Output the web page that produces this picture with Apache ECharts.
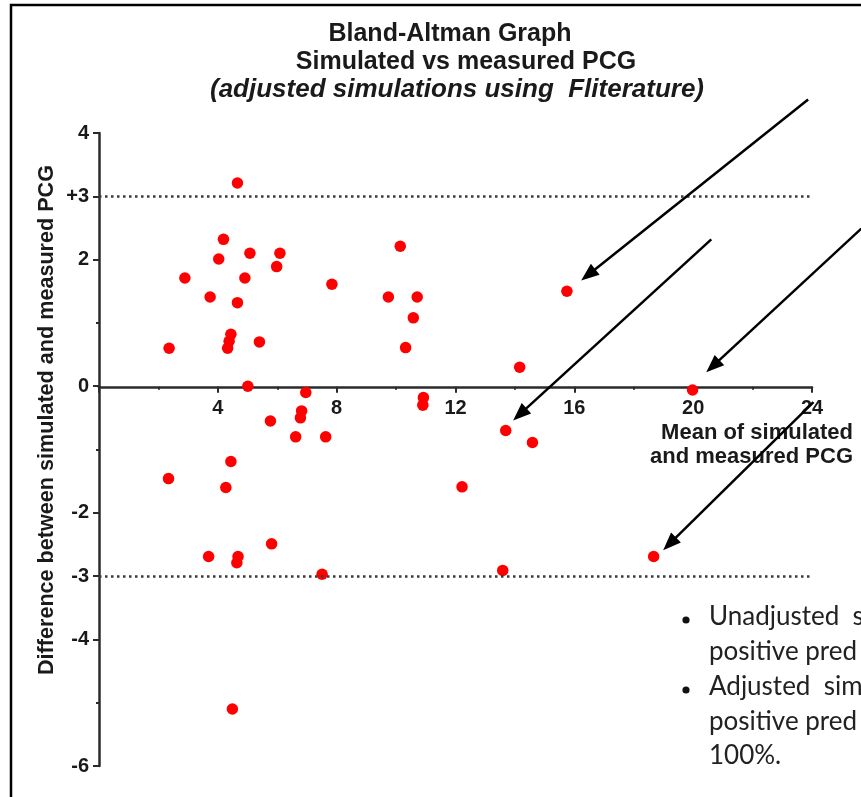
<!DOCTYPE html>
<html><head><meta charset="utf-8">
<script src="https://cdn.jsdelivr.net/npm/echarts@6/dist/echarts.min.js"></script>
<style>html,body{margin:0;padding:0;background:#fff}#c{width:861px;height:797px}</style>
</head><body><div id="c"></div>
<script>
// ---- data ----
const meanValues = [4.66,4.19,4.03,5.08,6.09,5.98,2.89,4.91,3.74,4.66,7.84,4.44,4.38,4.33,5.40,2.36,5.01,6.96,6.82,6.78,5.77,6.62,7.63,4.44,2.34,4.27,5.81,3.69,4.68,4.64,7.51,10.14,9.74,10.71,10.58,10.32,14.16,10.92,10.90,13.69,14.59,12.22,15.75,19.98,18.67,13.59,4.49];
const diffValues = [3.21,2.32,2.01,2.10,2.10,1.89,1.71,1.71,1.41,1.32,1.61,0.82,0.71,0.60,0.70,0.60,0.00,-0.10,-0.39,-0.50,-0.55,-0.80,-0.80,-1.19,-1.46,-1.60,-2.49,-2.69,-2.69,-2.79,-2.97,2.21,1.41,1.41,1.08,0.61,0.30,-0.18,-0.30,-0.70,-0.89,-1.59,1.50,-0.06,-2.69,-2.91,-5.10];
const yTickLabels = {'4':'4','3':'+3','2':'2','0':'0','-2':'-2','-3':'-3','-4':'-4','-6':'-6'};
const yMajorTicks = [4,3,2,0,-2,-3,-4,-6];
const yMin = -6, yMax = 4;
const limitLines = [3,-3];
const titleLines = ['Bland-Altman Graph','Simulated vs measured PCG','(adjusted simulations using  Fliterature)'];
const yAxisTitle = 'Difference between simulated and measured PCG';
const xAxisTitle = ['Mean of simulated','and measured PCG'];
// arrows: [from(mean,diff), to(mean,diff)]
const arrowsFrom = [[23.87,4.53],[20.61,2.32],[25.66,2.49],[24.05,-0.25]];
const arrowsTo   = [[16.23,1.67],[13.94,-0.54],[20.44,0.22],[18.99,-2.59]];
const noteLines = ['Unadjusted  s','positive pred','Adjusted  sim','positive pred','100%.'];
const noteBullets = [0,2];

const chart = echarts.init(document.getElementById('c'));
const axisColor = '#2b2b2b';
const lblFont = {fontFamily:'Liberation Sans', fontWeight:'bold', fontSize:20, color:'#1a1a1a'};
chart.setOption({
  animation:false,
  backgroundColor:'#fff',
  grid:{left:99, top:133, width:713, height:633},
  xAxis:{type:'value', min:0, max:24, interval:4, position:'bottom', offset:0,
    axisLine:{onZero:false, lineStyle:{color:axisColor, width:2.5}},
    axisTick:{length:6, lineStyle:{color:axisColor, width:2}},
    minorTick:{show:true, splitNumber:2, length:3, lineStyle:{color:axisColor, width:2}},
    splitLine:{show:false}, minorSplitLine:{show:false},
    axisLabel:Object.assign({margin:12, formatter:v=>v===0?'':String(v)}, lblFont)},
  yAxis:[{type:'value', min:yMin, max:yMax, interval:1, position:'left',
    axisLine:{show:true, onZero:false, lineStyle:{color:axisColor, width:2.5}},
    axisTick:{show:true, length:3, lineStyle:{color:axisColor, width:2}},
    splitLine:{show:false},
    axisLabel:Object.assign({margin:10, formatter:v=>(yTickLabels[String(v)]||'')}, lblFont)},
   {type:'value', min:yMin, max:yMax, interval:1, position:'left',
    axisLine:{show:false, onZero:false}, splitLine:{show:false}, axisLabel:{show:false},
    axisTick:{show:true, length:6, customValues:yMajorTicks, lineStyle:{color:axisColor, width:2}}}],
  series:[{type:'scatter', yAxisIndex:0, symbol:'circle', symbolSize:11.5,
    itemStyle:{color:'#ff0000', opacity:1},
    data:meanValues.map((m,i)=>[m,diffValues[i]]),
    markLine:{silent:true, symbol:['none','none'], label:{show:false},
      lineStyle:{type:[2.5,3.5], color:'#3a3a3a', width:2.5},
      data:limitLines.map(v=>({yAxis:v}))}, z:3}]
});
// move the x axis (line, ticks, labels) up to y = 0
const zeroPx = chart.convertToPixel({yAxisIndex:0}, 0);
const bottomPx = chart.convertToPixel({yAxisIndex:0}, yMin);
chart.setOption({xAxis:{offset: zeroPx - bottomPx}});

const g = [];
g.push({type:'rect', shape:{x:11,y:5,width:900,height:900}, style:{fill:'none', stroke:'#000', lineWidth:2.5}, silent:true});
const tY = [34,62,90];
const tX = [450,466,457];
const tSize = [25,25,26];
titleLines.forEach((t,i)=>{
  g.push({type:'text', x:tX[i], y:tY[i], style:{text:t, fontFamily:'Liberation Sans', fontWeight:'bold',
    fontStyle: i===2?'italic':'normal', fontSize:tSize[i], fill:'#1a1a1a',
    align:'center', verticalAlign:'middle', textAlign:'center', textVerticalAlign:'middle'}});
});
g.push({type:'text', x:47, y:420, rotation:Math.PI/2, style:{text:yAxisTitle, fontFamily:'Liberation Sans', fontWeight:'bold',
  fontSize:21.6, fill:'#1a1a1a', align:'center', verticalAlign:'middle', textAlign:'center', textVerticalAlign:'middle'}});
xAxisTitle.forEach((t,i)=>{
  g.push({type:'text', x:853, y:433+i*24, style:{text:t, fontFamily:'Liberation Sans', fontWeight:'bold',
    fontSize:22, fill:'#1a1a1a', align:'right', verticalAlign:'middle', textAlign:'right', textVerticalAlign:'middle'}});
});
arrowsFrom.forEach((f,i)=>{
  const p0 = chart.convertToPixel({gridIndex:0}, f);
  const p1 = chart.convertToPixel({gridIndex:0}, arrowsTo[i]);
  const dx = p1[0]-p0[0], dy = p1[1]-p0[1], L = Math.hypot(dx,dy);
  const ux = dx/L, uy = dy/L, hl = 18, hw = 7;
  const bx = p1[0]-ux*hl, by = p1[1]-uy*hl;
  g.push({type:'line', shape:{x1:p0[0],y1:p0[1],x2:bx+ux*2,y2:by+uy*2}, style:{stroke:'#000', lineWidth:2.5}, z:10});
  g.push({type:'polygon', shape:{points:[[p1[0],p1[1]],[bx-uy*hw,by+ux*hw],[bx+uy*hw,by-ux*hw]]}, style:{fill:'#000'}, z:10});
});
const nY = [617,652,687,722,756];
noteLines.forEach((t,i)=>{
  g.push({type:'text', x:709, y:nY[i], style:{text:t, fontFamily:'Lato', fontSize:26, fill:'#222',
    align:'left', verticalAlign:'middle', textAlign:'left', textVerticalAlign:'middle'}});
});
noteBullets.forEach(i=>{
  g.push({type:'circle', shape:{cx:686, cy:nY[i]+3, r:3.6}, style:{fill:'#111'}});
});
chart.setOption({graphic:g});
</script></body></html>
